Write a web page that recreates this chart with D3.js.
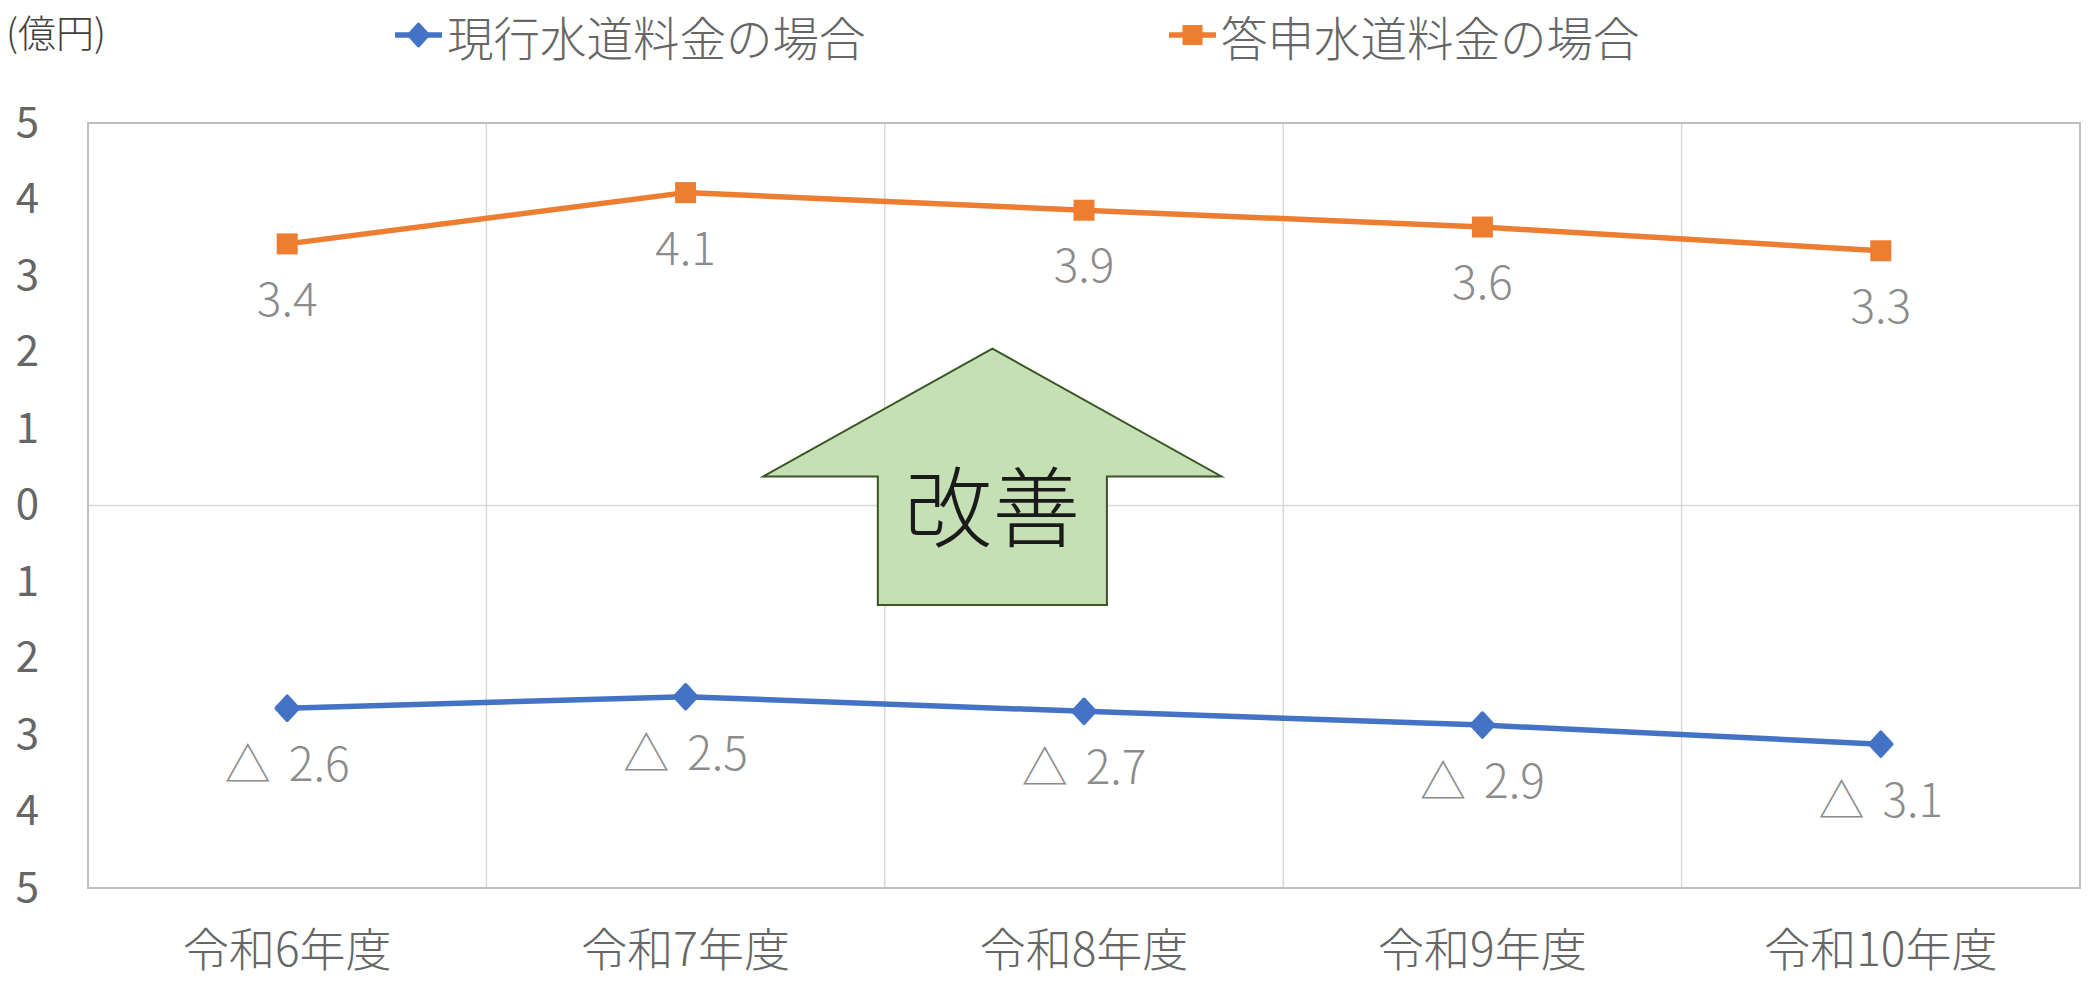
<!DOCTYPE html>
<html>
<head>
<meta charset="utf-8">
<script src="https://d3js.org/d3.v7.min.js"></script>
<style>
  body { margin: 0; background: #fff; }
  text { font-family: "Noto Sans CJK JP", "Noto Sans", sans-serif; }
</style>
</head>
<body>
<script>
// data (億円)
var years = ["令和6年度", "令和7年度", "令和8年度", "令和9年度", "令和10年度"];
var currentRate = [-2.65, -2.50, -2.69, -2.87, -3.12];
var proposedRate = [3.42, 4.09, 3.86, 3.64, 3.33];
var seriesNames = ["現行水道料金の場合", "答申水道料金の場合"];
var yTicks = [-5, -4, -3, -2, -1, 0, 1, 2, 3, 4, 5];

var W = 2100, H = 981;
var plot = {left: 88, right: 2080, top: 123, bottom: 888};
var colors = ["#4472C4", "#ED7D31"];

var svg = d3.select("body").append("svg")
  .attr("width", W)
  .attr("height", H);

var xScale = d3.scaleBand()
  .domain(years)
  .range([plot.left, plot.right]);

var yScale = d3.scaleLinear()
  .domain([-5, 5])
  .range([plot.bottom, plot.top]);

function cx(i){ return xScale(years[i]) + xScale.bandwidth() / 2; }

// gridlines
svg.append("g").selectAll("line.hgrid")
  .data(yTicks.filter(function(d){ return d === 0; }))
  .enter().append("line")
  .attr("x1", plot.left).attr("x2", plot.right)
  .attr("y1", function(d){ return yScale(d); })
  .attr("y2", function(d){ return yScale(d); })
  .attr("stroke", "#d9d9d9").attr("stroke-width", 1.5);

svg.append("g").selectAll("line.vgrid")
  .data(years.slice(1))
  .enter().append("line")
  .attr("x1", function(d){ return xScale(d); })
  .attr("x2", function(d){ return xScale(d); })
  .attr("y1", plot.top).attr("y2", plot.bottom)
  .attr("stroke", "#d9d9d9").attr("stroke-width", 1.5);

// plot border
svg.append("rect")
  .attr("x", plot.left).attr("y", plot.top)
  .attr("width", plot.right - plot.left)
  .attr("height", plot.bottom - plot.top)
  .attr("fill", "none")
  .attr("stroke", "#bfbfbf").attr("stroke-width", 2);

// y axis (absolute values shown)
var yAxis = svg.append("g")
  .attr("transform", "translate(" + plot.left + ",0)")
  .call(d3.axisLeft(yScale).tickValues(yTicks).tickSize(0).tickPadding(49)
    .tickFormat(function(d){ return Math.abs(d); }));
yAxis.select(".domain").remove();
yAxis.selectAll("text")
  .attr("font-size", 42)
  .attr("fill", "#666")
  .attr("font-family", "'Noto Sans', sans-serif");

// x axis
var xAxis = svg.append("g")
  .attr("transform", "translate(0," + plot.bottom + ")")
  .call(d3.axisBottom(xScale).tickSize(0));
xAxis.select(".domain").remove();
xAxis.selectAll("text")
  .attr("y", 62)
  .attr("dy", "0.35em")
  .attr("font-size", 46)
  .attr("font-weight", 300)
  .attr("fill", "#666");

// up arrow annotation "改善"
var arrowX = d3.scaleLinear().domain([0, 1]).range([plot.left, plot.right]);
var ax = 0.454, headHalf = 0.115, shaftHalf = 0.0575;
var arrowPts = [
  [ax, 2.05],
  [ax + headHalf, 0.38],
  [ax + shaftHalf, 0.38],
  [ax + shaftHalf, -1.3],
  [ax - shaftHalf, -1.3],
  [ax - shaftHalf, 0.38],
  [ax - headHalf, 0.38]
];
svg.append("path")
  .attr("d", d3.line()
    .x(function(d){ return arrowX(d[0]); })
    .y(function(d){ return yScale(d[1]); })
    .curve(d3.curveLinearClosed)(arrowPts))
  .attr("fill", "#c5e0b4")
  .attr("stroke", "#385723")
  .attr("stroke-width", 2);
svg.append("text")
  .attr("x", arrowX(ax))
  .attr("y", yScale(0.05))
  .attr("text-anchor", "middle")
  .attr("dominant-baseline", "central")
  .attr("font-size", 88)
  .attr("font-weight", 300)
  .attr("fill", "#1a1a1a")
  .text("改善");

// series lines
var series = [currentRate, proposedRate];
var line = d3.line()
  .x(function(d, i){ return cx(i); })
  .y(function(d){ return yScale(d); });

series.forEach(function(vals, s){
  svg.append("path")
    .attr("d", line(vals))
    .attr("fill", "none")
    .attr("stroke", colors[s])
    .attr("stroke-width", 5.5)
    .attr("stroke-linejoin", "round");
});

function diamond(rx, ry){ return "M0," + (-ry) + "L" + rx + ",0L0," + ry + "L" + (-rx) + ",0Z"; }

// markers
svg.append("g").selectAll("path")
  .data(currentRate)
  .enter().append("path")
  .attr("transform", function(d, i){ return "translate(" + cx(i) + "," + yScale(d) + ")"; })
  .attr("d", diamond(11, 12))
  .attr("fill", colors[0])
  .attr("stroke", colors[0])
  .attr("stroke-width", 3.5)
  .attr("stroke-linejoin", "round");

svg.append("g").selectAll("rect")
  .data(proposedRate)
  .enter().append("rect")
  .attr("x", function(d, i){ return cx(i) - 10.5; })
  .attr("y", function(d){ return yScale(d) - 10.5; })
  .attr("width", 21).attr("height", 21)
  .attr("fill", colors[1]);

// data labels
var fmt = d3.format(".1f");
svg.append("g").selectAll("text")
  .data(proposedRate)
  .enter().append("text")
  .attr("x", function(d, i){ return cx(i); })
  .attr("y", function(d){ return yScale(d) + 52; })
  .attr("text-anchor", "middle")
  .attr("dominant-baseline", "central")
  .attr("font-size", 46)
  .attr("font-weight", 300)
  .attr("fill", "#8c8c8c")
  .text(function(d){ return fmt(d); });

var negLabels = svg.append("g").selectAll("text")
  .data(currentRate)
  .enter().append("text")
  .attr("x", function(d, i){ return cx(i); })
  .attr("y", function(d){ return yScale(d) + 53; })
  .attr("text-anchor", "middle")
  .attr("dominant-baseline", "central")
  .attr("font-size", 46)
  .attr("font-weight", 300)
  .attr("fill", "#8c8c8c");
negLabels.append("tspan").text("△");
negLabels.append("tspan").attr("dx", 18).text(function(d){ return fmt(Math.abs(d)); });

// unit label
svg.append("text")
  .attr("x", 6).attr("y", 30)
  .attr("dominant-baseline", "central")
  .attr("font-size", 38)
  .attr("font-weight", 300)
  .attr("fill", "#404040")
  .text("(億円)");

// legend
var legendX = [395, 1169];
var legend = svg.append("g").selectAll("g")
  .data(seriesNames)
  .enter().append("g")
  .attr("transform", function(d, i){ return "translate(" + legendX[i] + ",35)"; });
legend.append("line")
  .attr("x1", 0).attr("x2", 47)
  .attr("stroke", function(d, i){ return colors[i]; })
  .attr("stroke-width", 5.5);
legend.append("path")
  .attr("d", function(d, i){ return i === 0 ? diamond(10, 11) : "M-10,-10H10V10H-10Z"; })
  .attr("transform", "translate(23.5,0)")
  .attr("fill", function(d, i){ return colors[i]; })
  .attr("stroke", function(d, i){ return i === 0 ? colors[i] : "none"; })
  .attr("stroke-width", 3)
  .attr("stroke-linejoin", "round");
legend.append("text")
  .attr("x", 52)
  .attr("dominant-baseline", "central")
  .attr("font-size", 46.5)
  .attr("font-weight", 300)
  .attr("fill", "#666")
  .text(function(d){ return d; });
</script>
</body>
</html>
